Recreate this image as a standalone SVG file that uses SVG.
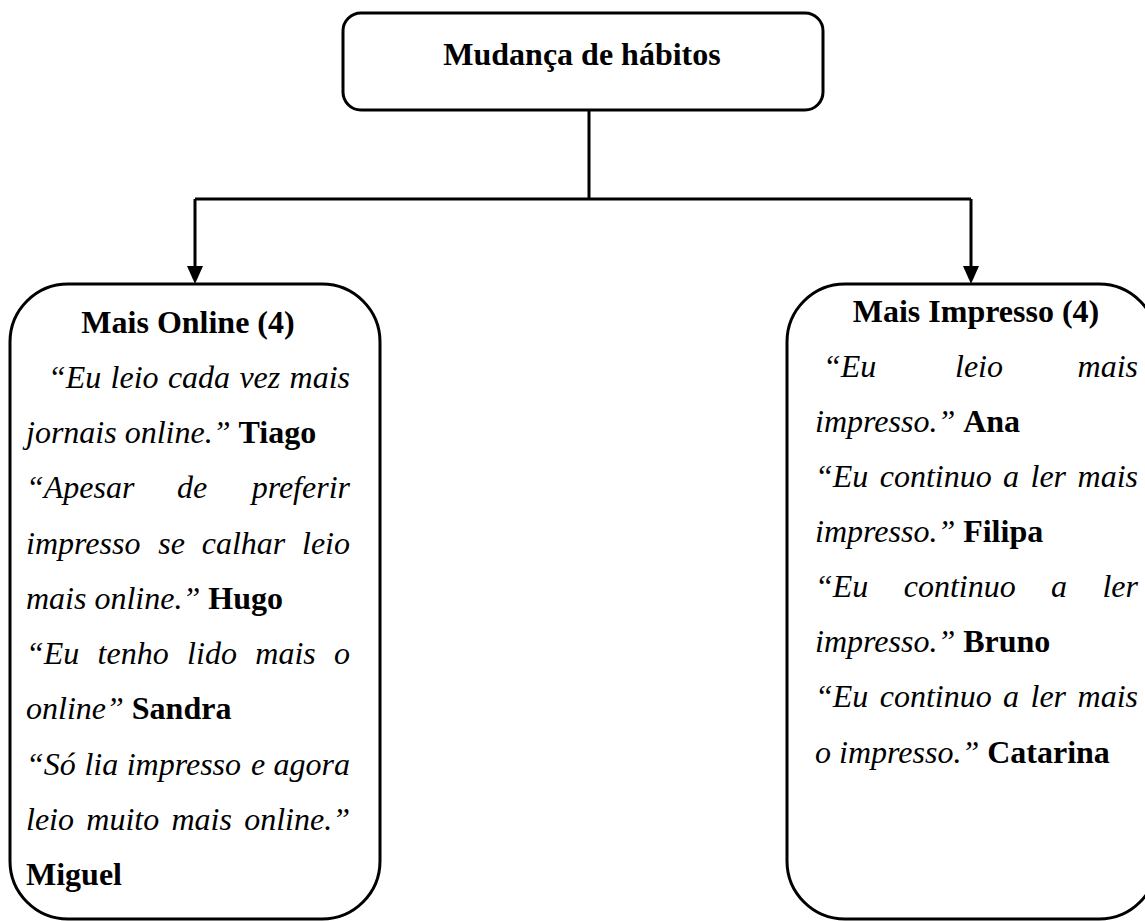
<svg xmlns="http://www.w3.org/2000/svg" width="1145" height="921" viewBox="0 0 1145 921">
<style>
.box{fill:#fff;stroke:#000;stroke-width:3}
.conn{fill:none;stroke:#000;stroke-width:3}
.head{fill:#000}
text{font-family:"Liberation Serif","Times New Roman",serif;font-size:32px;fill:#000}
.b{font-weight:bold}
.i{font-style:italic}
</style>
<rect width="1145" height="921" fill="#fff"/>
<g id="connectors">
<path class="conn" d="M589,110 V199"/>
<path class="conn" d="M195,199 H971"/>
<path class="conn" d="M195,199 V266"/>
<path class="conn" d="M971,199 V266"/>
<path class="head" d="M187,266 L203,266 L195,284 Z"/>
<path class="head" d="M963,266 L979,266 L971,284 Z"/>
</g>
<g id="node-top">
<rect class="box" x="343" y="13" width="480" height="97" rx="18"/>
<text class="b" x="582" y="65" text-anchor="middle">Mudança de hábitos</text>
</g>
<g id="node-online">
<rect class="box" x="10" y="284" width="370" height="635" rx="58"/>
<text class="b" x="188" y="333" text-anchor="middle">Mais Online (4)</text>
<text class="i" y="388"><tspan x="48">“Eu</tspan><tspan x="110.6">leio</tspan><tspan x="167.9">cada</tspan><tspan x="239.4">vez</tspan><tspan x="350" text-anchor="end">mais</tspan></text>
<text x="26" y="443"><tspan class="i">jornais online.” </tspan><tspan class="b">Tiago</tspan></text>
<text class="i" y="498"><tspan x="26">“Apesar</tspan><tspan x="177">de</tspan><tspan x="350" text-anchor="end">preferir</tspan></text>
<text class="i" y="554"><tspan x="26">impresso</tspan><tspan x="158.3">se</tspan><tspan x="201.7">calhar</tspan><tspan x="350" text-anchor="end">leio</tspan></text>
<text x="26" y="609"><tspan class="i">mais online.” </tspan><tspan class="b">Hugo</tspan></text>
<text class="i" y="664"><tspan x="26">“Eu</tspan><tspan x="97.6">tenho</tspan><tspan x="187.1">lido</tspan><tspan x="255.3">mais</tspan><tspan x="350" text-anchor="end">o</tspan></text>
<text x="26" y="719"><tspan class="i">online” </tspan><tspan class="b">Sandra</tspan></text>
<text class="i" y="775"><tspan x="26">“Só</tspan><tspan x="84.4">lia</tspan><tspan x="126.7">impresso</tspan><tspan x="250.9">e</tspan><tspan x="350" text-anchor="end">agora</tspan></text>
<text class="i" y="830"><tspan x="26">leio</tspan><tspan x="86.3">muito</tspan><tspan x="171.5">mais</tspan><tspan x="350" text-anchor="end">online.”</tspan></text>
<text class="b" x="26" y="885">Miguel</text>
</g>
<g id="node-impresso">
<rect class="box" x="787" y="284" width="370" height="635" rx="58"/>
<text class="b" x="976" y="322" text-anchor="middle">Mais Impresso (4)</text>
<text class="i" y="377"><tspan x="823">“Eu</tspan><tspan x="955">leio</tspan><tspan x="1138" text-anchor="end">mais</tspan></text>
<text x="815" y="432"><tspan class="i">impresso.” </tspan><tspan class="b">Ana</tspan></text>
<text class="i" y="487"><tspan x="815">“Eu</tspan><tspan x="879.7">continuo</tspan><tspan x="1003.1">a</tspan><tspan x="1030.5">ler</tspan><tspan x="1138" text-anchor="end">mais</tspan></text>
<text x="815" y="542"><tspan class="i">impresso.” </tspan><tspan class="b">Filipa</tspan></text>
<text class="i" y="597"><tspan x="815">“Eu</tspan><tspan x="903.7">continuo</tspan><tspan x="1051.1">a</tspan><tspan x="1138" text-anchor="end">ler</tspan></text>
<text x="815" y="652"><tspan class="i">impresso.” </tspan><tspan class="b">Bruno</tspan></text>
<text class="i" y="707"><tspan x="815">“Eu</tspan><tspan x="879.7">continuo</tspan><tspan x="1003.1">a</tspan><tspan x="1030.5">ler</tspan><tspan x="1138" text-anchor="end">mais</tspan></text>
<text x="815" y="763"><tspan class="i">o impresso.” </tspan><tspan class="b">Catarina</tspan></text>
</g>
</svg>
